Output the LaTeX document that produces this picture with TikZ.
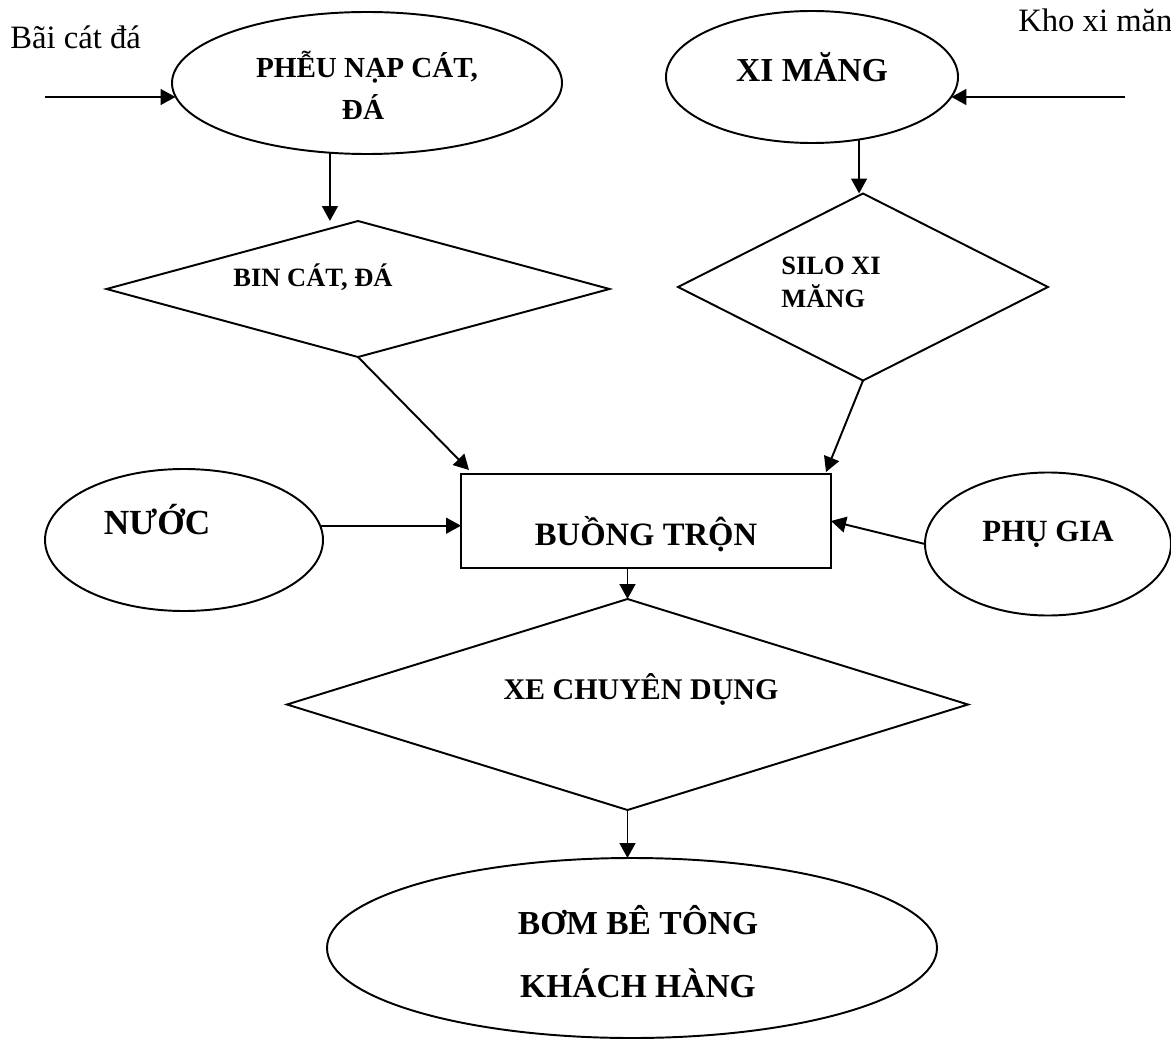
\documentclass[tikz,border=0pt]{standalone}
\usepackage{fontspec}
\setmainfont{Liberation Serif}
\usetikzlibrary{shapes.geometric,arrows.meta,calc}
\newlength\pxu
\setlength\pxu{0.5669pt}
\newcommand\fs[1]{\fontsize{#1}{#1}\selectfont}
\tikzset{
  box/.style={draw, line width=1.1pt, inner sep=0pt, outer sep=0pt},
  oval/.style={box, ellipse},
  rhomb/.style={box, diamond},
  arr/.style={line width=1.1pt, -{Triangle[length=8.5pt,width=9pt]}},
  lbl/.style={inner sep=0pt, anchor=base, font=\bfseries},
  plain/.style={inner sep=0pt, anchor=base west, font=\fs{18.5}}
}
\begin{document}
\begin{tikzpicture}[x=\pxu, y=-\pxu]
\useasboundingbox (0,0) rectangle (1171,1039);

% shapes
\node[oval, minimum width=390\pxu, minimum height=142\pxu] (phieu) at (367,83) {};
\node[oval, minimum width=292\pxu, minimum height=132\pxu] (xim) at (812,77) {};
\node[rhomb, minimum width=503\pxu, minimum height=136\pxu] (bin) at (358,289) {};
\node[rhomb, minimum width=370\pxu, minimum height=187\pxu] (silo) at (863,287) {};
\node[box, rectangle, minimum width=370\pxu, minimum height=94\pxu] (mix) at (646,521) {};
\node[oval, minimum width=278\pxu, minimum height=142\pxu] (nuoc) at (184,540) {};
\node[oval, minimum width=246\pxu, minimum height=143\pxu] (phu) at (1048,544) {};
\node[rhomb, minimum width=681\pxu, minimum height=211\pxu] (xe) at (627.5,704.5) {};
\node[oval, minimum width=610\pxu, minimum height=180\pxu] (bom) at (632,948) {};

% texts
\node[lbl, font=\bfseries\fs{16.5}] (tphieua) at (367,78) {PHỄU NẠP CÁT,};
\node[lbl, font=\bfseries\fs{16.5}] (tphieub) at (363,120) {ĐÁ};
\node[lbl, font=\bfseries\fs{19}] (txim) at (812,82) {XI MĂNG};
\node[lbl, font=\bfseries\fs{15}] (tbin) at (313,287) {BIN CÁT, ĐÁ};
\node[lbl, anchor=base west, font=\bfseries\fs{15}] (tsiloa) at (781,274) {SILO XI};
\node[lbl, anchor=base west, font=\bfseries\fs{15}] (tsilob) at (781,308) {MĂNG};
\node[lbl, font=\bfseries\fs{18.5}] (tmix) at (646,545) {BUỒNG TRỘN};
\node[lbl, font=\bfseries\fs{20}] (tnuoc) at (157,534) {NƯỚC};
\node[lbl, font=\bfseries\fs{17.5}] (tphu) at (1048,541) {PHỤ GIA};
\node[lbl, font=\bfseries\fs{17}] (txe) at (641,699) {XE CHUYÊN DỤNG};
\node[lbl, font=\bfseries\fs{19}] (tboma) at (638,934) {BƠM BÊ TÔNG};
\node[lbl, font=\bfseries\fs{19}] (tbomb) at (638,997) {KHÁCH HÀNG};
\node[plain] (src1) at (10,49) {Bãi cát đá};
\node[plain] (src2) at (1018,32) {Kho xi măng};

% free ends of the two supply arrows
\coordinate (inL) at (45,97);
\coordinate (inR) at (1125,97);

% connectors
\draw[arr] (inL) -- (inL -| phieu.184.2);
\draw[arr] (inR) -- (inR -| xim.-8.2);
\draw[arr] (phieu.242.5) -- (phieu.242.5 |- bin.north);
\draw[arr] (xim.-53) -- (xim.-53 |- silo.north);
\draw[arr] (bin.south) -- ($(mix.north west)+(8,-4)$);
\draw[arr] (silo.south) -- ($(mix.north east)+(-5,-2)$);
\draw[arr] (nuoc.6.3) -- (nuoc.6.3 -| mix.west);
\draw[arr] (phu.west) -- (mix.east);
\draw[arr] (xe.north |- mix.south) -- (xe.north);
\draw[arr] (xe.south) -- (xe.south |- bom.north);
\end{tikzpicture}
\end{document}
